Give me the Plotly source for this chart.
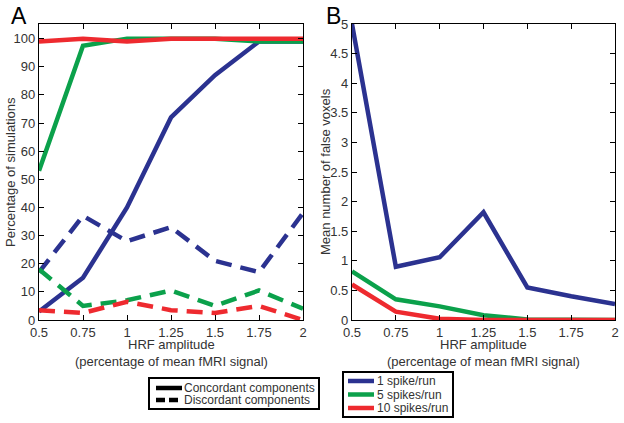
import plotly.graph_objects as go

hrf = [0.5, 0.75, 1, 1.25, 1.5, 1.75, 2]
hrf_labels = ["0.5", "0.75", "1", "1.25", "1.5", "1.75", "2"]

# Panel A: percentage of simulations
conc_1 = [3, 15, 40, 72, 87, 99, 99]
conc_5 = [53, 97.5, 100, 100, 100, 99, 99]
conc_10 = [99, 100, 99, 100, 100, 100, 100]
disc_1 = [17, 37, 28, 33, 21, 17, 38]
disc_5 = [18, 5, 7, 10.5, 5, 10.5, 4]
disc_10 = [3.5, 2.5, 6.5, 3.5, 2.5, 5, 0]

# Panel B: mean number of false voxels
fv_1 = [5, 0.9, 1.06, 1.82, 0.55, 0.4, 0.27]
fv_5 = [0.82, 0.35, 0.23, 0.08, 0.01, 0, 0]
fv_10 = [0.6, 0.14, 0.02, 0, 0, 0, 0]

series_names = ["1 spike/run", "5 spikes/run", "10 spikes/run"]
style_names = ["Concordant components", "Discordant components"]
colors = ["#2B3290", "#0BA14B", "#EE2A2F"]

W, H = 624, 423
# plot area in reference pixel coordinates
RL, RR, RT, RB = 39, 615, 24, 320
ML, MR, MT, MB = RL, W - RR, RT, H - RB
PW, PH = W - ML - MR, H - MT - MB


def px(x):
    return (x - RL) / PW


def py(y):
    return (RB - y) / PH


LW = 4.5
DASH = "16px,9px"
txt = "#333333"
font = "Liberation Sans, Arial, sans-serif"
FS = 13

fig = go.Figure()

for ys, c, n in zip([conc_1, conc_5, conc_10], colors, series_names):
    fig.add_trace(go.Scatter(x=hrf, y=ys, mode="lines", name=n + " (concordant)",
                             line=dict(color=c, width=LW), xaxis="x", yaxis="y", showlegend=False))
for ys, c, n in zip([disc_1, disc_5, disc_10], colors, series_names):
    fig.add_trace(go.Scatter(x=hrf, y=ys, mode="lines", name=n + " (discordant)",
                             line=dict(color=c, width=LW, dash=DASH), xaxis="x", yaxis="y",
                             showlegend=False))
for ys, c, n in zip([fv_1, fv_5, fv_10], colors, series_names):
    fig.add_trace(go.Scatter(x=hrf, y=ys, mode="lines", name=n, line=dict(color=c, width=LW),
                             xaxis="x2", yaxis="y2", showlegend=False))

axis_common = dict(showline=True, linecolor="black", linewidth=1.3, mirror="ticks",
                   ticks="inside", ticklen=5, tickwidth=1.2, tickcolor="black",
                   showgrid=False, zeroline=False, automargin=False,
                   tickfont=dict(family=font, size=FS, color=txt))

shapes = []
annotations = []


def text(s, x, y, xanchor="center", yanchor="middle", size=FS, angle=0, color=txt):
    annotations.append(dict(text=s, x=px(x), y=py(y), xref="paper", yref="paper",
                            xanchor=xanchor, yanchor=yanchor, showarrow=False, textangle=angle,
                            borderpad=0,
                            font=dict(family=font, size=size, color=color)))


# panel letters
text("A", 10, 16, "left", "middle", size=23, color="black")
text("B", 325, 16, "left", "middle", size=23, color="black")

# axis titles
for cx in [(39 + 303) / 2, (352 + 615) / 2]:
    text("HRF amplitude", cx, 344)
    text("(percentage of mean fMRI signal)", cx, 361)
text("Percentage of simulations", 10, (RT + RB) / 2, angle=-90)
text("Mean number of false voxels", 325, (RT + RB) / 2, angle=-90)

# legend for line styles (panel A)
shapes.append(dict(type="rect", xref="paper", yref="paper", x0=px(149), x1=px(319),
                   y0=py(378), y1=py(409), line=dict(color="black", width=2),
                   fillcolor="white"))
for i, (nm, dash) in enumerate(zip(style_names, ["solid", "9px,4px"])):
    yy = 388 + i * 12
    shapes.append(dict(type="line", xref="paper", yref="paper", x0=px(156), x1=px(182),
                       y0=py(yy), y1=py(yy), line=dict(color="black", width=LW, dash=dash)))
    text(nm, 183, yy, "left", "middle", size=12)

# legend for spike rates (panel B)
shapes.append(dict(type="rect", xref="paper", yref="paper", x0=px(343), x1=px(453),
                   y0=py(372), y1=py(417), line=dict(color="black", width=2),
                   fillcolor="white"))
for i, (nm, c) in enumerate(zip(series_names, colors)):
    yy = 381 + i * 13.5
    shapes.append(dict(type="line", xref="paper", yref="paper", x0=px(348), x1=px(374),
                       y0=py(yy), y1=py(yy), line=dict(color=c, width=LW)))
    text(nm, 376, yy, "left", "middle", size=12)

fig.update_layout(
    width=W, height=H,
    margin=dict(l=ML, r=MR, t=MT, b=MB, autoexpand=False),
    paper_bgcolor="white", plot_bgcolor="white",
    font=dict(family=font, color=txt),
    showlegend=False,
    xaxis=dict(domain=[0, px(303)], range=[0.5, 2], tickvals=hrf, ticktext=hrf_labels,
               anchor="y", **axis_common),
    yaxis=dict(domain=[0, 1], range=[0, 105.2], tickvals=list(range(0, 101, 10)),
               anchor="x", **axis_common),
    xaxis2=dict(domain=[px(352), 1], range=[0.5, 2], tickvals=hrf, ticktext=hrf_labels,
                anchor="y2", **axis_common),
    yaxis2=dict(domain=[0, 1], range=[0, 5], dtick=0.5, anchor="x2", **axis_common),
    shapes=shapes,
    annotations=annotations,
)

fig.write_html(
    "out.html",
    config={"displayModeBar": False},
    post_script="document.body.style.margin='0';document.body.style.overflow='hidden';",
)
